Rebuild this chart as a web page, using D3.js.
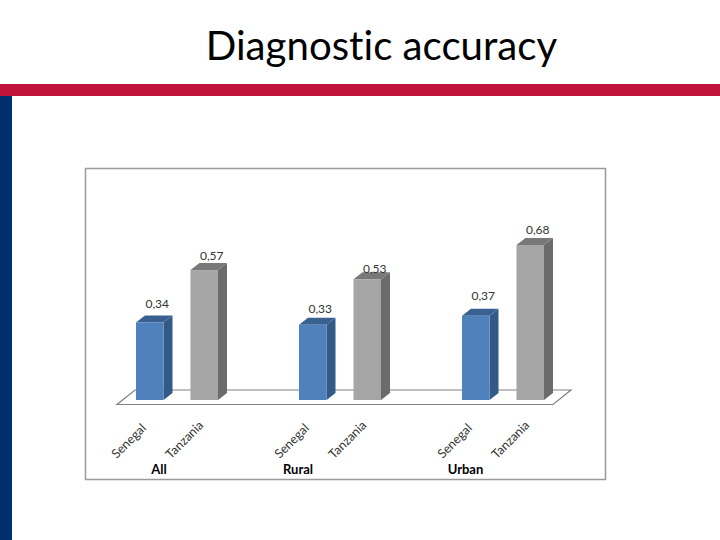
<!DOCTYPE html>
<html>
<head>
<meta charset="utf-8">
<title>Diagnostic accuracy</title>
<script src="https://cdn.jsdelivr.net/npm/d3@7"></script>
<style>
    html, body { margin: 0; padding: 0; background: #fff; }
    svg { display: block; }
    text { font-family: Lato, "Noto Sans", sans-serif; font-variant-ligatures: none; }
</style>
</head>
<body>
<svg id="chart" width="720" height="540"></svg>
<script>
    // data
    const groups = ["All", "Rural", "Urban"];
    const series = ["Senegal", "Tanzania"];
    const senegal = [0.34, 0.33, 0.37];
    const tanzania = [0.57, 0.53, 0.68];

    // the labels do not sit at a constant height in the original
    const labelLift = [14.5, 10.5, 12, 6, 16, 11];
    const groupNudge = [-32, -56, -51.5];

    const fills = {
        Senegal: { front: "#4f81bd", side: "#335a87", top: "#386192" },
        Tanzania: { front: "#a5a5a5", side: "#6b6b6b", top: "#787878" }
    };
    const tickShift = {
        Senegal: { x: -3, y: 429 },
        Tanzania: { x: 0, y: 426 }
    };

    const rows = [];
    groups.forEach((g, i) => {
        rows.push({ group: g, name: "Senegal", value: senegal[i] });
        rows.push({ group: g, name: "Tanzania", value: tanzania[i] });
    });

    const svg = d3.select("#chart");
    const comma = d3.formatLocale({ decimal: ",", thousands: ".", grouping: [3], currency: ["", ""] }).format(".2f");

    // slide furniture
    svg.append("rect").attr("x", 0).attr("y", 84).attr("width", 720).attr("height", 12).attr("fill", "#c0143c");
    svg.append("rect").attr("x", 0).attr("y", 96).attr("width", 12).attr("height", 444).attr("fill", "#002e6e");
    svg.append("text")
        .attr("x", 381.5).attr("y", 60)
        .attr("text-anchor", "middle")
        .attr("font-size", 40.2)
        .attr("fill", "#000")
        .text("Diagnostic accuracy");

    // chart frame
    svg.append("rect")
        .attr("x", 85.5).attr("y", 168.5).attr("width", 520).attr("height", 311)
        .attr("fill", "#fff").attr("stroke", "#9a9a9a").attr("stroke-width", 1.5);

    const x0 = d3.scaleBand().domain(groups).range([109.5, 598.5]);
    const x1 = d3.scaleBand().domain(series).range([26.5, 108.5]).paddingInner(0.495);
    const y = d3.scaleLinear().domain([0, 0.68]).range([400, 245]);

    const depthX = 9, depthY = 7;
    const barX = d => x0(d.group) + x1(d.name);
    const bw = x1.bandwidth();

    // floor
    const floorLeft = 117, floorRight = 553;
    svg.append("path")
        .attr("d", `M${floorLeft},404.5 L${floorRight},404.5 L${floorRight + 18},390 L${floorLeft + 18},390 Z`)
        .attr("fill", "#fff").attr("stroke", "#808080").attr("stroke-width", 1.2);

    const bars = svg.selectAll(".bar").data(rows).enter().append("g").attr("class", "bar");

    bars.append("path")
        .attr("fill", d => fills[d.name].side)
        .attr("d", d => {
            const r = barX(d) + bw;
            return `M${r},${y(d.value)} l${depthX},${-depthY} L${r + depthX},${y(0) - depthY} L${r},${y(0)} Z`;
        });
    bars.append("path")
        .attr("fill", d => fills[d.name].top)
        .attr("d", d => {
            const l = barX(d), t = y(d.value);
            return `M${l},${t} l${depthX},${-depthY} h${bw} l${-depthX},${depthY} Z`;
        });
    bars.append("rect")
        .attr("x", barX)
        .attr("y", d => y(d.value))
        .attr("width", bw)
        .attr("height", d => y(0) - y(d.value))
        .attr("fill", d => fills[d.name].front);

    // value labels
    bars.append("text")
        .attr("x", d => barX(d) + bw / 2 + 7.5)
        .attr("y", (d, i) => y(d.value) - labelLift[i])
        .attr("text-anchor", "middle")
        .attr("font-size", 12)
        .attr("fill", "#333")
        .text(d => comma(d.value));

    // category labels
    bars.append("text")
        .attr("text-anchor", "end")
        .attr("font-size", 12.5)
        .attr("fill", "#333")
        .attr("transform", d => `translate(${barX(d) + bw / 2 + tickShift[d.name].x},${tickShift[d.name].y}) rotate(-45)`)
        .text(d => d.name);

    svg.selectAll(".group-label").data(groups).enter().append("text")
        .attr("class", "group-label")
        .attr("x", (d, i) => x0(d) + x0.bandwidth() / 2 + groupNudge[i])
        .attr("y", 473.5)
        .attr("text-anchor", "middle")
        .attr("font-size", 13)
        .attr("font-weight", "bold")
        .attr("fill", "#000")
        .text(d => d);
</script>
</body>
</html>
